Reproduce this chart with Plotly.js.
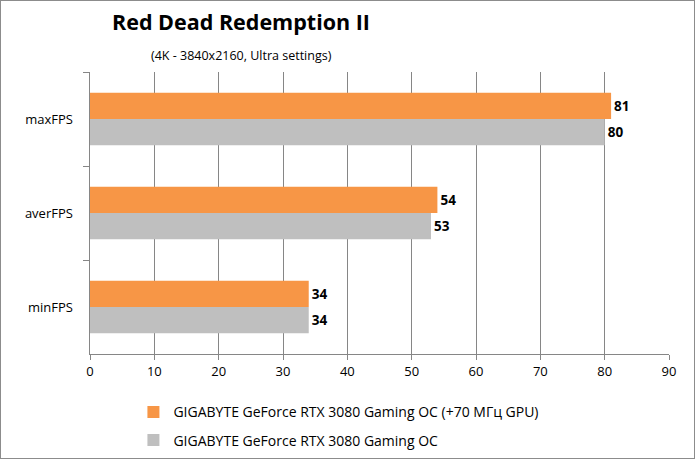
<!DOCTYPE html>
<html>
<head>
<meta charset="utf-8">
<script src="https://cdn.plot.ly/plotly-3.0.1.min.js"></script>
<style>
  body { margin: 0; }
  #chart { width: 693px; height: 457px; border: 1px solid #8c8c8c; }
</style>
</head>
<body>
<div id="chart"></div>
<script>
// FPS results
var categories = ['maxFPS', 'averFPS', 'minFPS'];
var fps_oc = [81, 54, 34];
var fps_stock = [80, 53, 34];
var name_oc = 'GIGABYTE GeForce RTX 3080 Gaming OC (+70 МГц GPU)';
var name_stock = 'GIGABYTE GeForce RTX 3080 Gaming OC';
var x_ticks = [0, 10, 20, 30, 40, 50, 60, 70, 80, 90];
var chart_title = 'Red Dead Redemption II';
var chart_subtitle = '(4K - 3840x2160, Ultra settings)';

var font = 'Open Sans, Noto Sans, sans-serif';

var trace_oc = {
  y: categories,
  x: fps_oc,
  name: name_oc,
  legendgroup: 'oc',
  type: 'bar',
  orientation: 'h',
  marker: {color: '#f79646'},
  text: fps_oc,
  textposition: 'outside',
  textfont: {family: font, size: 13.5, color: '#000', weight: 'bold'},
  cliponaxis: false,
  hoverinfo: 'x'
};
var trace_stock = {
  y: categories,
  x: fps_stock,
  name: name_stock,
  legendgroup: 'stock',
  type: 'bar',
  orientation: 'h',
  marker: {color: '#bfbfbf'},
  text: fps_stock,
  textposition: 'outside',
  textfont: {family: font, size: 13.5, color: '#000', weight: 'bold'},
  cliponaxis: false,
  hoverinfo: 'x'
};

var layout = {
  width: 693,
  height: 457,
  margin: {l: 89, r: 25, t: 71, b: 104, autoexpand: false},
  paper_bgcolor: '#fff',
  plot_bgcolor: '#fff',
  font: {family: font, size: 13, color: '#000'},
  annotations: [
    {
      text: '<b>' + chart_title + '</b>',
      font: {family: font, size: 21.5, color: '#000'},
      xref: 'paper', yref: 'paper',
      x: 0.261, xanchor: 'center',
      y: 1.18, yanchor: 'middle',
      showarrow: false
    },
    {
      text: chart_subtitle,
      font: {family: font, size: 12.5, color: '#000'},
      xref: 'paper', yref: 'paper',
      x: 0.261, xanchor: 'center',
      y: 1.058, yanchor: 'middle',
      showarrow: false
    }
  ],
  barmode: 'group',
  bargap: 0.44,
  bargroupgap: 0,
  xaxis: {
    range: [0, 90],
    tickvals: x_ticks,
    showgrid: true,
    gridcolor: '#868686',
    gridwidth: 1,
    zeroline: false,
    showline: true,
    linecolor: '#868686',
    ticks: 'outside',
    ticklen: 5,
    tickcolor: '#868686',
    tickfont: {size: 13}
  },
  yaxis: {
    autorange: 'reversed',
    showline: true,
    linecolor: '#868686',
    ticks: 'outside',
    tickson: 'boundaries',
    ticklen: 6,
    tickcolor: '#868686',
    showgrid: false,
    tickfont: {size: 13},
    ticksuffix: '    '
  },
  legend: {
    orientation: 'v',
    traceorder: 'grouped',
    x: 0.075, xanchor: 'left',
    y: -0.15, yanchor: 'top',
    font: {size: 14},
    tracegroupgap: 7
  },
  showlegend: true
};

Plotly.newPlot('chart', [trace_oc, trace_stock], layout, {displayModeBar: false});
</script>
</body>
</html>
